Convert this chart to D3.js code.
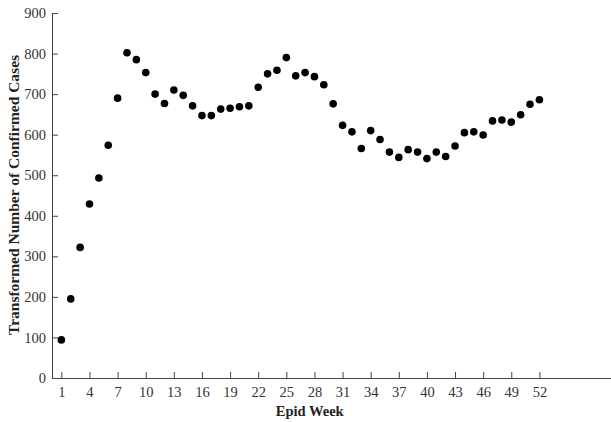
<!DOCTYPE html>
<html>
<head>
<meta charset="utf-8">
<script src="https://cdn.jsdelivr.net/npm/d3@7"></script>
<style>
  body { margin: 0; background: #fff; }
  svg { display: block; }
</style>
</head>
<body>
<div id="chart"></div>
<script>
// Epid week numbers and transformed case counts
const weeks = d3.range(1, 53);
const cases = [
  94, 195, 322, 429, 493, 574, 690, 802, 785, 753,
  700, 677, 710, 697, 671, 647, 647, 663, 665, 669,
  671, 717, 750, 759, 790, 745, 753, 743, 723, 676,
  623, 607, 566, 610, 588, 557, 544, 563, 557, 541,
  557, 546, 572, 605, 607, 599, 634, 636, 631, 649,
  675, 686
];
const xTicks = [1, 4, 7, 10, 13, 16, 19, 22, 25, 28, 31, 34, 37, 40, 43, 46, 49, 52];
const yTicks = [0, 100, 200, 300, 400, 500, 600, 700, 800, 900];

const data = weeks.map((w, i) => ({ week: w, value: cases[i] }));

// Chart dimensions and margins
const width = 611, height = 422;
const margin = { top: 13, right: 0, bottom: 44, left: 52 };

const svg = d3.select("#chart")
  .append("svg")
  .attr("width", width)
  .attr("height", height)
  .style("font-family", "'Liberation Serif', 'Times New Roman', serif");

// Scales
const x = d3.scaleLinear()
  .domain([0, 60])
  .range([margin.left, margin.left + 60 * 9.373]);

const y = d3.scaleLinear()
  .domain([0, 900])
  .range([height - margin.bottom, margin.top]);

// X axis (ticks point inward)
const xAxis = svg.append("g")
  .attr("transform", `translate(0,${y(0)})`)
  .call(d3.axisBottom(x).tickValues(xTicks).tickSizeInner(-6).tickSizeOuter(0).tickPadding(9));

// Y axis (ticks point inward)
const yAxis = svg.append("g")
  .attr("transform", `translate(${x(0)},0)`)
  .call(d3.axisLeft(y).tickValues(yTicks).tickSizeInner(-6).tickSizeOuter(0).tickPadding(6));

[xAxis, yAxis].forEach(g => {
  g.select(".domain").attr("stroke", "#444");
  g.selectAll(".tick line").attr("stroke", "#444");
  g.selectAll("text")
    .attr("fill", "#333")
    .style("font-size", "14.5px")
    .style("font-family", "'Liberation Serif', 'Times New Roman', serif");
});

// Data points
svg.append("g")
  .selectAll("circle")
  .data(data)
  .enter()
  .append("circle")
  .attr("cx", d => x(d.week))
  .attr("cy", d => y(d.value))
  .attr("r", 3.8)
  .attr("fill", "#000");

// X axis label
svg.append("text")
  .attr("text-anchor", "middle")
  .attr("x", x(27.5))
  .attr("y", 416)
  .attr("fill", "#222")
  .style("font-size", "14.5px")
  .style("font-weight", "bold")
  .text("Epid Week");

// Y axis label
svg.append("text")
  .attr("text-anchor", "middle")
  .attr("transform", "rotate(-90)")
  .attr("x", -195)
  .attr("y", 19)
  .attr("fill", "#222")
  .style("font-size", "15.5px")
  .style("font-weight", "bold")
  .text("Transformed Number of Confirmed Cases");
</script>
</body>
</html>
